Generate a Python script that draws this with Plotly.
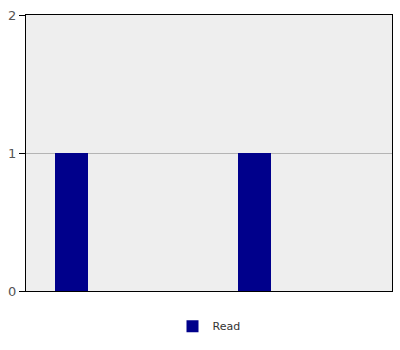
import plotly.graph_objects as go

categories = ["1", "2", "3", "4"]
read_values = [1, 0, 1, 0]
series_name = "Read"
y_ticks = [0, 1, 2]

fig = go.Figure()
fig.add_trace(go.Bar(
    x=categories, y=read_values, name=series_name,
    marker=dict(color="#00008b", line=dict(width=0)),
    width=0.36, showlegend=True,
))

fig.update_layout(
    width=400, height=350,
    margin=dict(l=26, r=8, t=15, b=59),
    paper_bgcolor="white",
    plot_bgcolor="#eeeeee",
    font=dict(family="DejaVu Sans", size=12, color="#444444"),
    showlegend=True,
    legend=dict(orientation="h", x=0.5, xanchor="center", y=-0.075, yanchor="top",
                font=dict(size=11, color="#333333"), itemwidth=30),
    bargap=0,
)
fig.update_xaxes(
    showline=True, linecolor="black", linewidth=1, mirror=True,
    showticklabels=False, ticks="", showgrid=False, zeroline=False,
)
fig.update_yaxes(
    range=[0, 2], tickvals=y_ticks, showline=True, linecolor="black", linewidth=1,
    mirror=True, ticks="outside", ticklen=6, tickcolor="black",
    showgrid=True, gridcolor="#b4b4b4", gridwidth=1, zeroline=False,
    tickfont=dict(size=13, color="#555555"),
)

fig.write_html("out.html")
